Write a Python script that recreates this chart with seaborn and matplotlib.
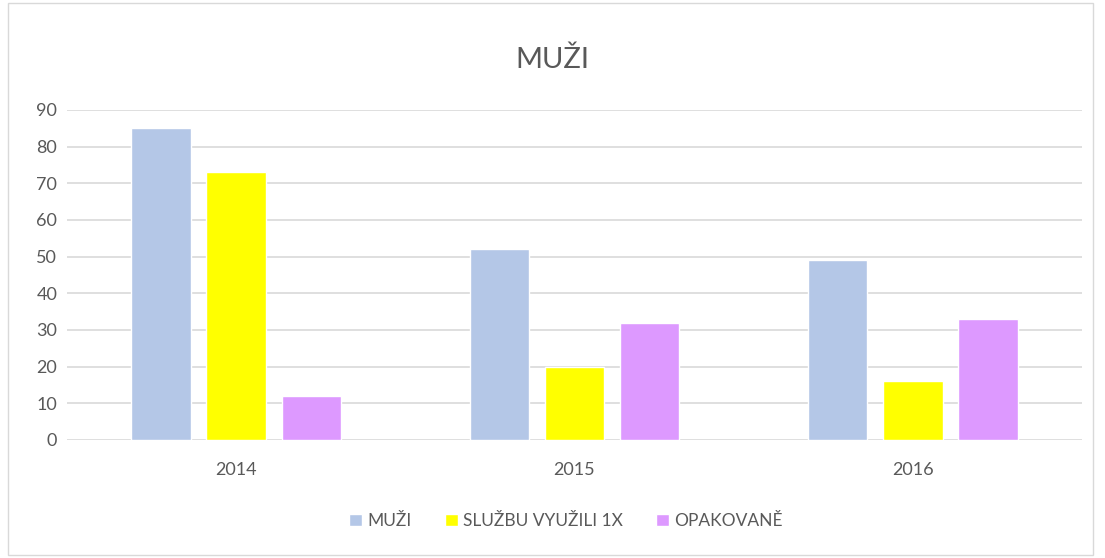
import pandas as pd
import matplotlib.pyplot as plt
import seaborn as sns
from matplotlib.patches import Rectangle

# data
years = ["2014", "2015", "2016"]
muzi = [85, 52, 49]
sluzbu_1x = [73, 20, 16]
opakovane = [12, 32, 33]
series_names = ["MUŽI", "SLUŽBU VYUŽILI 1X", "OPAKOVANĚ"]
colors = ["#B4C7E7", "#FFFF00", "#DD99FF"]

df = pd.DataFrame({"rok": years * 3,
                   "serie": [series_names[0]] * 3 + [series_names[1]] * 3 + [series_names[2]] * 3,
                   "hodnota": muzi + sluzbu_1x + opakovane})

sns.set_style("white")
plt.rcParams["font.family"] = ["Lato", "DejaVu Sans"]

fig = plt.figure(figsize=(11.05, 5.58), dpi=100)
ax = fig.add_axes([0.0606, 0.2115, 0.9186, 0.5915])

sns.barplot(data=df, x="rok", y="hodnota", hue="serie", palette=colors,
            width=0.666, gap=0.21, ax=ax, saturation=1, legend=True)

ax.set_ylim(0, 90)
ax.set_xlim(-0.5, 2.5)
ax.set_yticks(range(0, 91, 10))
ax.yaxis.grid(True, color="#D9D9D9", lw=1.2)
ax.set_axisbelow(True)
for s in ax.spines.values():
    s.set_visible(False)
ax.set_xlabel("")
ax.set_ylabel("")
ax.tick_params(axis="both", length=0, labelsize=13, labelcolor="#595959")
ax.tick_params(axis="x", pad=16)
ax.tick_params(axis="y", pad=7)

fig.text(0.5, 0.893, "MUŽI", ha="center", va="center", fontsize=21, color="#595959")

handles, labels = ax.get_legend_handles_labels()
ax.get_legend().remove()
fig.legend(handles, labels, loc="center", bbox_to_anchor=(0.512, 0.066), ncol=3,
           frameon=False, fontsize=12.5, labelcolor="#595959",
           handlelength=0.75, handleheight=0.75, handletextpad=0.3, columnspacing=1.9)

fig.add_artist(Rectangle((0.007, 0.006), 0.982, 0.988, transform=fig.transFigure,
                         fill=False, edgecolor="#D9D9D9", lw=1))

fig.savefig("out.png", dpi=100)
